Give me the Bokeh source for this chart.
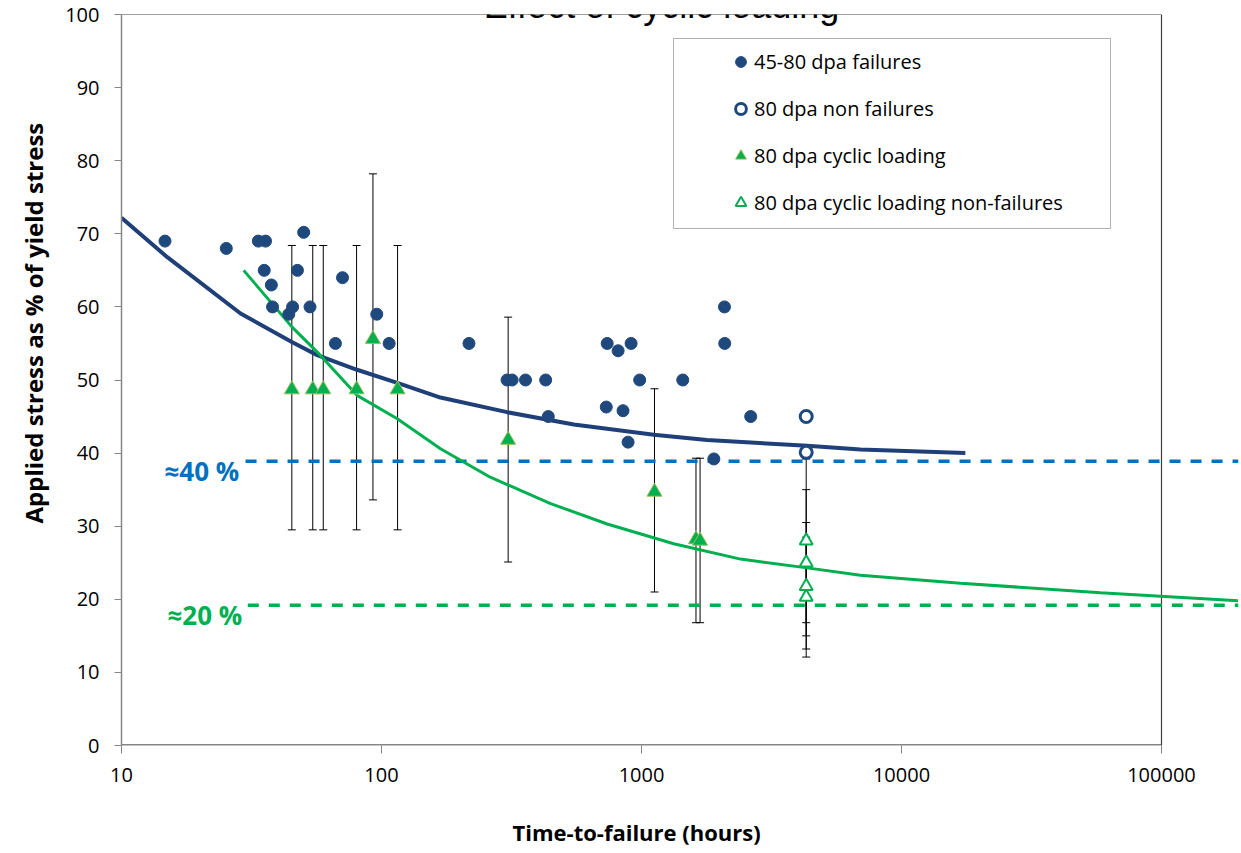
import math
from bokeh.plotting import figure
from bokeh.models import (Range1d, FixedTicker, BasicTickFormatter, Whisker, TeeHead,
                          ColumnDataSource, Legend, LegendItem, Label, BoxAnnotation, Title)
from bokeh.embed import file_html
from bokeh.resources import INLINE

# ---------------- data ----------------
title_text = "Effect of cyclic loading"
x_label = "Time-to-failure (hours)"
y_label = "Applied stress as % of yield stress"

x_ticks = [10, 100, 1000, 10000, 100000]
y_ticks = [0, 10, 20, 30, 40, 50, 60, 70, 80, 90, 100]

# 45-80 dpa failures
fail_x = [14.7, 25.3, 33.6, 35.8, 50.2, 35.4, 47.5, 37.7, 38.1, 45.5, 44.0, 53.1,
          70.8, 66.5, 95.9, 107, 217, 304, 318, 358, 428, 438, 738, 813, 912,
          732, 849, 888, 984, 1441, 2085, 2090, 2630, 1898]
fail_y = [69, 68, 69, 69, 70.2, 65, 65, 63, 60, 60, 59, 60,
          64, 55, 59, 55, 55, 50, 50, 50, 50, 45, 55, 54, 55,
          46.3, 45.8, 41.5, 50, 50, 60, 55, 45, 39.2]

# 80 dpa non failures
nonfail_x = [4300, 4300]
nonfail_y = [45.0, 40.1]

# 80 dpa cyclic loading (failures) with error bars
cyc_x = [45.2, 54.4, 59.7, 80.2, 92.7, 115.3, 307, 1122, 1620, 1680]
cyc_y = [48.7, 48.7, 48.7, 48.7, 55.6, 48.7, 41.8, 34.7, 28.2, 28.0]
cyc_lo = [29.5, 29.5, 29.5, 29.5, 33.6, 29.5, 25.1, 21.0, 16.8, 16.8]
cyc_hi = [68.4, 68.4, 68.4, 68.4, 78.2, 68.4, 58.6, 48.8, 39.3, 39.3]

# 80 dpa cyclic loading non-failures with error bars
cycnf_x = [4300, 4300, 4300, 4300]
cycnf_y = [28.0, 25.0, 21.8, 20.3]
cycnf_lo = [16.8, 15.0, 13.2, 12.1]
cycnf_hi = [39.2, 35.0, 30.5, 28.5]

# trend curves
blue_fit_x = [10, 15, 28.7, 45.2, 56.6, 80.5, 115, 168.6, 304, 549, 1115, 1787, 4335, 6950, 17600]
blue_fit_y = [72.2, 66.8, 59.1, 55.2, 53.4, 51.4, 49.6, 47.6, 45.6, 43.9, 42.5, 41.8, 41.0, 40.5, 40.0]
green_fit_x = [29.5, 45.4, 57.4, 80.5, 115, 168.6, 262, 447, 738, 1330, 2404, 4335, 6950,
               16870, 58200, 197000]
green_fit_y = [65.0, 57.2, 53.6, 47.9, 44.7, 40.6, 36.7, 33.1, 30.3, 27.6, 25.5, 24.3, 23.3,
               22.2, 20.9, 19.8]

# approximate threshold levels
level_values = [38.9, 19.2]
level_texts = ["\u224840 %", "\u224820 %"]
level_start_x = [30.0, 30.6]

legend_labels = ["45-80 dpa failures", "80 dpa non failures",
                 "80 dpa cyclic loading", "80 dpa cyclic loading non-failures"]

# ---------------- layout / style ----------------
NAVY = "#1F497D"
NAVY_LINE = "#1F3F78"
GREEN = "#00B050"
TRI_EDGE = "#9BBB59"
BLUE = "#0070C0"
AXIS_GRAY = "#868686"
FONT = "Open Sans"

FL, FR, FT, FB = 121, 1238, 14, 745       # frame box in page px
DEC = 260.0                               # px per decade
X_MIN = 10.0
X_MAX = 10 ** (1 + (FR - FL) / DEC)

def px2x(px):
    return 10 ** (1 + (px - FL) / DEC)

def px2y(py):
    return (FB - py) * 100.0 / (FB - FT)

p = figure(x_axis_type="log", x_range=Range1d(X_MIN, X_MAX), y_range=Range1d(0, 100),
           frame_width=FR - FL, frame_height=FB - FT,
           min_border_left=FL, min_border_right=2, min_border_top=FT, min_border_bottom=106,
           output_backend="svg", toolbar_location=None)
p.outline_line_color = None
p.xgrid.visible = False
p.ygrid.visible = False
p.background_fill_color = "white"
p.border_fill_color = "white"

# axes
p.xaxis.ticker = FixedTicker(ticks=x_ticks)
p.xaxis.formatter = BasicTickFormatter(use_scientific=False)
p.xaxis.axis_line_alpha = 0
p.xaxis.major_tick_line_color = AXIS_GRAY
p.xaxis.major_tick_out = 8
p.xaxis.major_tick_in = 0
p.xaxis.minor_tick_line_color = None
p.xaxis.major_label_standoff = 14
p.xaxis.major_label_text_font = FONT
p.xaxis.major_label_text_font_size = "20px"
p.xaxis.major_label_text_color = "black"
# invisible (blank) axis label used only as vertical spacing before the x title
p.xaxis.axis_label = "\u00a0"
p.xaxis.axis_label_standoff = 12
p.xaxis.axis_label_text_font_size = "16px"
p.xaxis.axis_label_text_alpha = 0

p.yaxis.ticker = FixedTicker(ticks=y_ticks)
p.yaxis.axis_line_color = AXIS_GRAY
p.yaxis.axis_line_width = 1.5
p.yaxis.major_tick_line_color = AXIS_GRAY
p.yaxis.major_tick_out = 7
p.yaxis.major_tick_in = 0
p.yaxis.minor_tick_line_color = None
p.yaxis.major_label_standoff = 15
p.yaxis.major_label_text_font = FONT
p.yaxis.major_label_text_font_size = "20px"
p.yaxis.major_label_text_color = "black"

# axis titles as side titles (offset from the frame's start edge)
p.add_layout(Title(text=x_label, align="left", offset=391, standoff=0, vertical_align="top",
                   text_font=FONT, text_font_style="bold", text_font_size="22px",
                   text_color="black"), "below")
p.add_layout(Title(text=y_label, align="left", offset=222, standoff=25,
                   text_font=FONT, text_font_style="bold", text_font_size="24px",
                   text_color="black"), "left")

# frame lines of the original chart area (ends at the last decade)
p.segment(x0=[x_ticks[0]], y0=[y_ticks[0]], x1=[x_ticks[-1]], y1=[y_ticks[0]],
          line_color=AXIS_GRAY, line_width=3)
p.segment(x0=[x_ticks[0]], y0=[y_ticks[-1]], x1=[x_ticks[-1]], y1=[y_ticks[-1]],
          line_color="#404040", line_width=1.2)
p.segment(x0=[x_ticks[-1]], y0=[y_ticks[0]], x1=[x_ticks[-1]], y1=[y_ticks[-1]],
          line_color="#404040", line_width=1.2)

# threshold dashed lines
for yv, xs, col in zip(level_values, level_start_x, [BLUE, GREEN]):
    p.line([xs, X_MAX], [yv, yv], line_color=col, line_width=3.5, line_dash="11 10")

# trend curves
p.line(blue_fit_x, blue_fit_y, line_color=NAVY_LINE, line_width=4)
p.line(green_fit_x, green_fit_y, line_color=GREEN, line_width=3)

# error bars
for xs, lo, hi in [(cyc_x, cyc_lo, cyc_hi), (cycnf_x, cycnf_lo, cycnf_hi)]:
    src = ColumnDataSource(dict(base=xs, lower=lo, upper=hi))
    w = Whisker(source=src, base="base", lower="lower", upper="upper", dimension="height",
                line_color="black", line_width=1,
                upper_head=TeeHead(size=8, line_color="black", line_width=1),
                lower_head=TeeHead(size=8, line_color="black", line_width=1))
    p.add_layout(w)

# markers
r_fail = p.scatter(fail_x, fail_y, marker="circle", size=12, fill_color=NAVY, line_color=NAVY)
r_nonfail = p.scatter(nonfail_x, nonfail_y, marker="circle", size=12, fill_color="white",
                      line_color=NAVY, line_width=3)
r_cyc = p.scatter(cyc_x, cyc_y, marker="triangle", size=15, fill_color=GREEN,
                  line_color=TRI_EDGE, line_width=1)
r_cycnf = p.scatter(cycnf_x, cycnf_y, marker="triangle", size=13, fill_color="white",
                    line_color=GREEN, line_width=2)

# legend frame
box = BoxAnnotation(left=px2x(673), right=px2x(1110), top=px2y(38), bottom=px2y(228),
                    fill_color="white", fill_alpha=1, line_color="black", line_width=1)
p.add_layout(box)

legend = Legend(items=[LegendItem(label=legend_labels[0], renderers=[r_fail]),
                       LegendItem(label=legend_labels[1], renderers=[r_nonfail]),
                       LegendItem(label=legend_labels[2], renderers=[r_cyc]),
                       LegendItem(label=legend_labels[3], renderers=[r_cycnf])],
                location=(606, 529), padding=0, margin=0, spacing=20,
                glyph_width=27, glyph_height=27, label_height=27, label_standoff=0,
                label_text_font=FONT, label_text_font_size="20px", label_text_color="black",
                border_line_color=None, background_fill_alpha=0)
p.add_layout(legend)

# level labels
p.add_layout(Label(x=px2x(164), y=px2y(470), text=level_texts[0], text_color=BLUE,
                   text_font=FONT, text_font_style="bold", text_font_size="26px",
                   text_align="left", text_baseline="middle"))
p.add_layout(Label(x=px2x(167), y=px2y(614), text=level_texts[1], text_color=GREEN,
                   text_font=FONT, text_font_style="bold", text_font_size="26px",
                   text_align="left", text_baseline="middle"))

# chart title, cut off at the top edge as in the reference
p.add_layout(Label(x=px2x(661), y=px2y(5), text=title_text, text_color="black",
                   text_font="Liberation Sans", text_font_size="36px",
                   text_align="center", text_baseline="alphabetic"))

open("out.html", "w").write(file_html(p, INLINE))
